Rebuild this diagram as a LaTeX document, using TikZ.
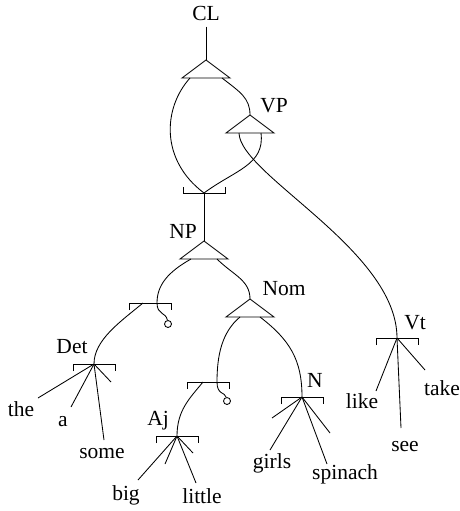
\documentclass[tikz,border=0pt]{standalone}
\usepackage{fontspec}
\setmainfont{Liberation Serif}
\usetikzlibrary{calc}

\newcommand\andnode[3][12]{%
  \coordinate (#2) at (#3);
  \coordinate (#2-l) at ($(#2)+(-#1,18)$);
  \coordinate (#2-r) at ($(#2)+(#1,18)$);
  \draw (#2) -- ++(-24,18) -- ++(48,0) -- cycle;}
\newcommand\ordown[2]{%
  \coordinate (#1) at (#2);
  \draw ($(#1)+(-21,7)$) -- ++(0,-7) -- ++(42,0) -- ++(0,7);}
\newcommand\orup[2]{%
  \coordinate (#1) at (#2);
  \draw ($(#1)+(-21,-6)$) -- ++(0,6) -- ++(42,0) -- ++(0,-6);}

\begin{document}
\begin{tikzpicture}[x=1pt,y=-1pt,line width=.85pt,
  every node/.style={font=\fontsize{21.5}{25}\selectfont,inner sep=0pt},
  zero/.style={circle,draw,minimum size=7pt}
  ]
  \useasboundingbox (0,0) rectangle (460,511);

  \node (cl-txt) at (206,13) {CL};
  \node (vp-txt) at (274,106) {VP};
  \node (np-txt) at (183,231) {NP};
  \node (nom-txt) at (284,289) {Nom};
  \node (det-txt) at (72,347) {Det};
  \node (aj-txt) at (158,421) {Aj};
  \node (n-txt) at (315,380) {N};
  \node (vt-txt) at (415,323) {Vt};

  \andnode[16]{cl}{206,60}
  \andnode[11]{vp}{250,115}
  \andnode[13]{np}{204,241}
  \andnode[10]{nom}{250,299}

  \orup{np-or}{204,193}
  \ordown{det-or}{150,303}
  \coordinate (det-or-a) at (143,303);
  \coordinate (det-or-b) at (157,303);
  \ordown{det}{94,364}
  \ordown{nom-or}{208,382}
  \coordinate (nom-or-a) at (203,382);
  \coordinate (nom-or-b) at (217,382);
  \ordown{aj}{177,436}
  \ordown{n}{302,397}
  \ordown{vt}{397,338}

  \node[zero] (det-zero) at (168,324) {};
  \node[zero] (aj-zero) at (227,401) {};

  \draw[shorten <=6pt] (cl-txt) -- (cl);
  \draw (cl-l) .. controls (163,108) and (160,160) .. (np-or);
  \draw (cl-r) .. controls (240,92) and (250,98) .. (vp);
  \draw (vp-l) .. controls (240,175) and (397,250) .. (vt);
  \draw (vp-r) .. controls (265,165) and (235,170) .. (np-or);
  \draw (np-or) -- (np);
  \draw (np-l) .. controls (168,272) and (157,285) .. (det-or-b)
    .. controls (157,315) and (166,312) .. (det-zero);
  \draw (np-r) .. controls (233,275) and (250,280) .. (nom);
  \draw (det-or-a) .. controls (120,322) and (94,340) .. (det);
  \draw (nom-l) .. controls (222,332) and (217,355) .. (nom-or-b)
    .. controls (217,395) and (225,392) .. (aj-zero);
  \draw (nom-or-a) .. controls (190,398) and (177,410) .. (aj);
  \draw (nom-r) .. controls (290,340) and (302,360) .. (n);

  \coordinate (the-end) at (38,398);
  \coordinate (a-end) at (71,407);
  \coordinate (some-end) at (104,440);
  \coordinate (det-x) at (111,382);
  \node (the) at (21,409) {the};
  \node (a) at (63,422) {a};
  \node (some) at (102,454) {some};
  \draw (det) -- (the-end);
  \draw (det) -- (a-end);
  \draw (det) -- (some-end);
  \draw (det) -- (det-x);

  \coordinate (big-end) at (138,480);
  \coordinate (aj-x) at (165,464);
  \coordinate (little-end) at (196,483);
  \coordinate (aj-y) at (193,453);
  \node (big) at (126,495) {big};
  \node (little) at (202,496) {little};
  \draw (aj) -- (big-end);
  \draw (aj) -- (aj-x);
  \draw (aj) -- (little-end);
  \draw (aj) -- (aj-y);

  \coordinate (girls-end) at (270,450);
  \coordinate (n-x) at (272,418);
  \coordinate (spinach-end) at (327,464);
  \coordinate (n-y) at (330,433);
  \node (girls) at (272,463) {girls};
  \node (spinach) at (345,474) {spinach};
  \draw (n) -- (girls-end);
  \draw (n) -- (n-x);
  \draw (n) -- (spinach-end);
  \draw (n) -- (n-y);

  \coordinate (like-end) at (376,391);
  \coordinate (see-end) at (401,428);
  \coordinate (take-end) at (425,370);
  \node (like) at (362,401) {like};
  \node (see) at (405,447) {see};
  \node (take) at (442,388) {take};
  \draw (vt) -- (like-end);
  \draw (vt) -- (see-end);
  \draw (vt) -- (take-end);
\end{tikzpicture}
\end{document}
